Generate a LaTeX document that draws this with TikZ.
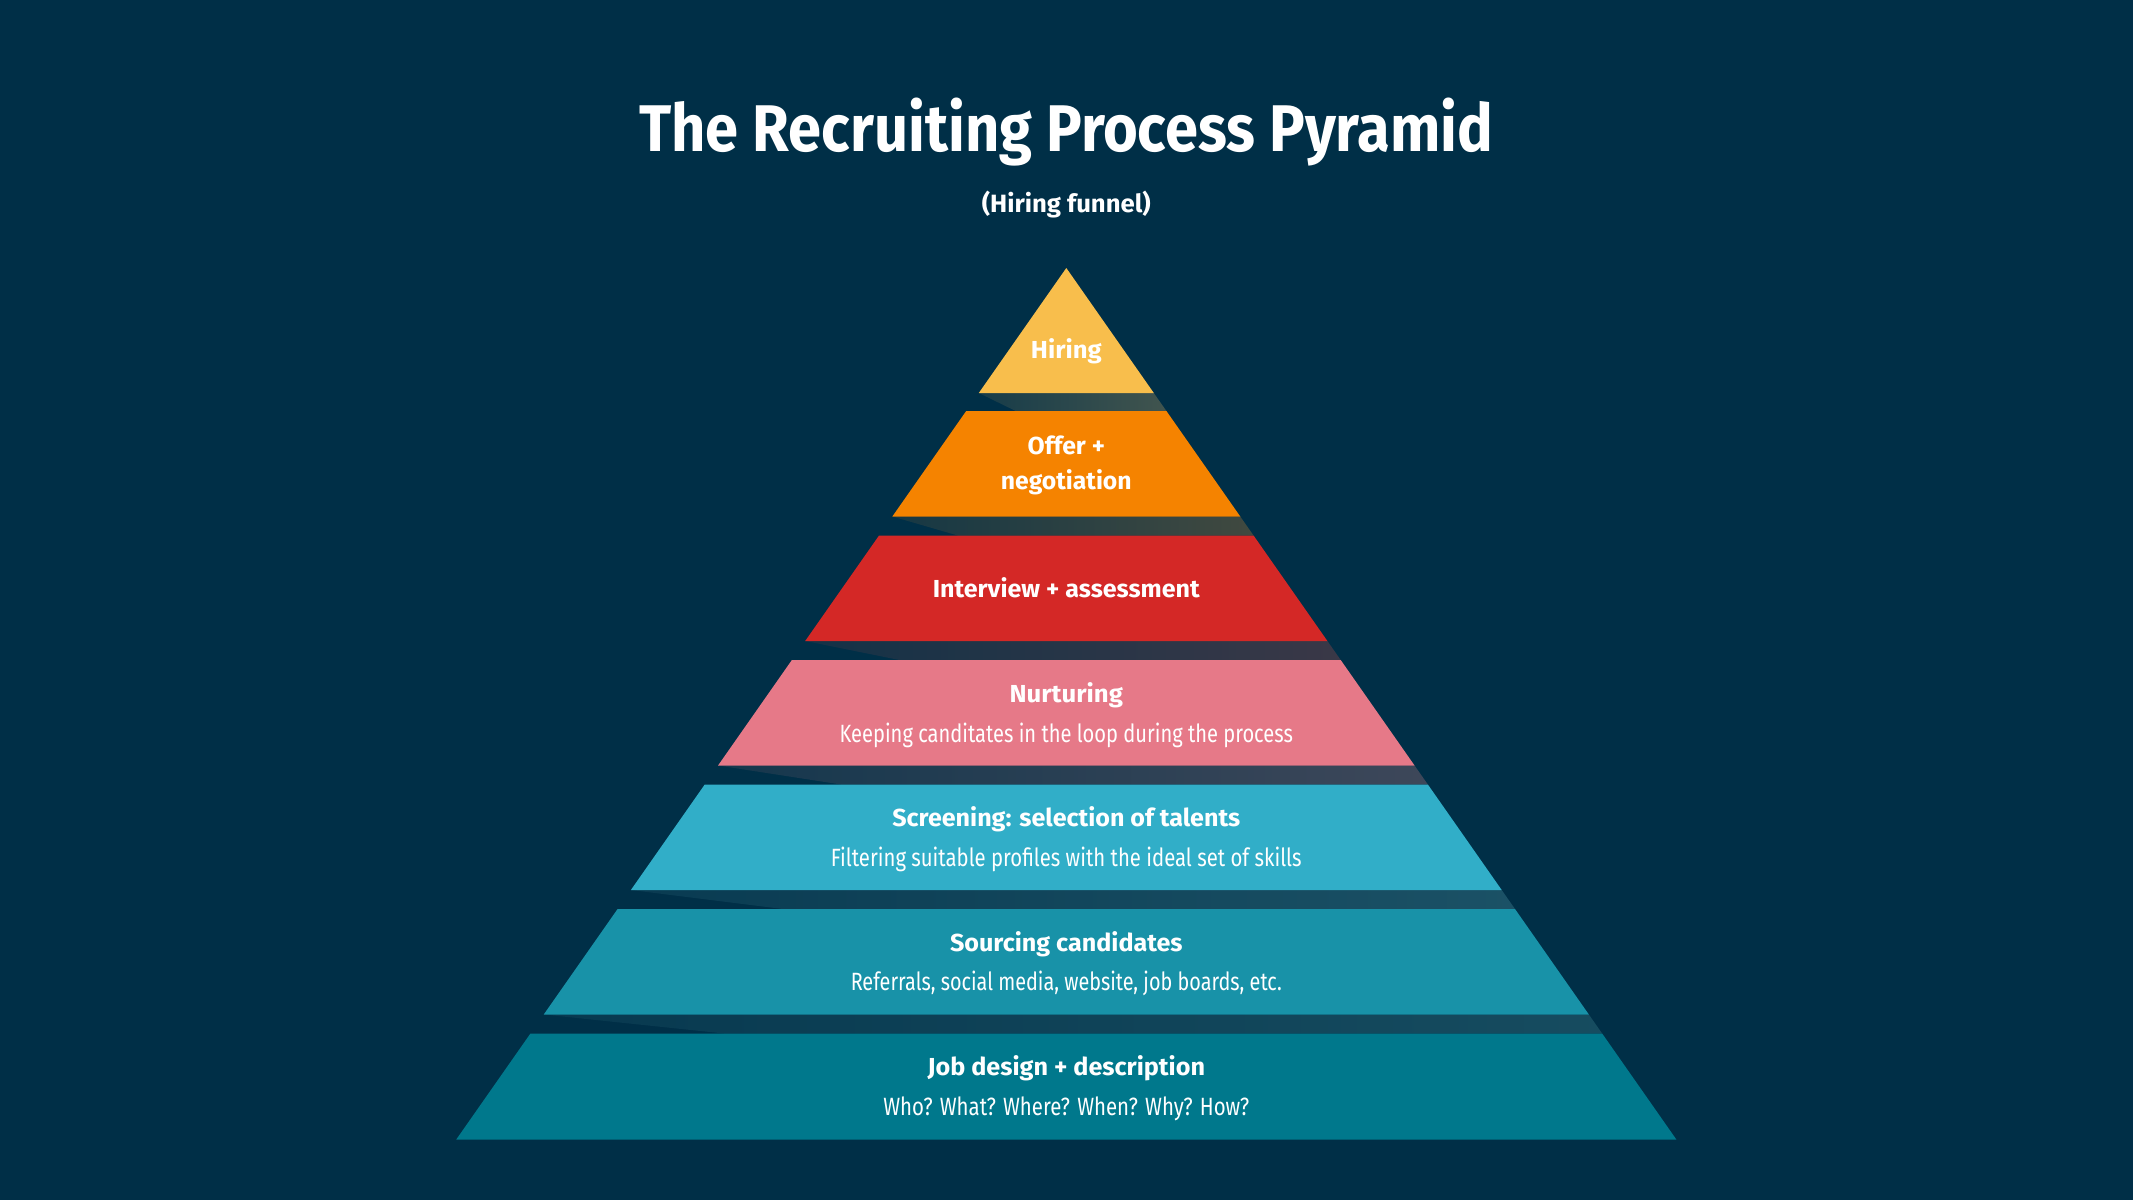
\documentclass[tikz,border=0pt]{standalone}
\usepackage{fontspec}
\setmainfont{Fira Sans}
\newfontfamily\lightf{Fira Sans}
\usepackage{graphicx}
\definecolor{bg}{HTML}{002F47}
\definecolor{sgray}{RGB}{110,110,110}
\definecolor{chir}{HTML}{F8BE4C}
\definecolor{coffer}{HTML}{F58300}
\definecolor{cint}{HTML}{D42826}
\definecolor{cnur}{HTML}{E67988}
\definecolor{cscr}{HTML}{31AEC8}
\definecolor{csrc}{HTML}{1892A8}
\definecolor{cjob}{HTML}{00788C}
\newcommand\fitw[2]{\resizebox{#1pt}{\height}{#2}}
\begin{document}
\begin{tikzpicture}[x=0.5pt,y=-0.5pt]
\tikzset{
 ttl/.style={text=white,inner sep=0pt,anchor=base,font=\bfseries\fontsize{33}{36}\selectfont},
 sub/.style={text=white,inner sep=0pt,anchor=base,font=\bfseries\fontsize{12.5}{14}\selectfont},
 lbl/.style={text=white,inner sep=0pt,anchor=base,font=\bfseries\fontsize{12.3}{14}\selectfont},
 dsc/.style={text=white,inner sep=0pt,anchor=base,font=\lightf\fontsize{12.5}{14}\selectfont},
}
\fill[bg] (0,0) rectangle (2133,1200);
\def\cx{1066.3}
% shadows
\foreach \yb/\yt/\colU in {393/411/chir,516.5/535.5/coffer,641/660/cint,765.5/784.5/cnur,890/909/cscr,1014.5/1033.5/csrc}
  \shade[left color=\colU!54.5!sgray!12!bg, middle color=\colU!54.5!sgray!55!bg, right color=\colU!54.5!sgray!35!bg]
    ({\cx-0.7*(\yb-268)},\yb) -- ({\cx+0.7*(\yb-268)},\yb) -- ({\cx+0.7*(\yt-268)},\yt) -- ({\cx-0.469*(\yb-268)+8},\yt) -- cycle;
% layers
\fill[chir] (\cx,268) -- ({\cx+0.7*125},393) -- ({\cx-0.7*125},393) -- cycle;
\foreach \t/\b/\c in {411/516.5/coffer,535.5/641/cint,660/765.5/cnur,784.5/890/cscr,909/1014.5/csrc,1033.5/1139.5/cjob}
  \fill[\c] ({\cx-0.7*(\t-268)},\t) -- ({\cx+0.7*(\t-268)},\t) -- ({\cx+0.7*(\b-268)},\b) -- ({\cx-0.7*(\b-268)},\b) -- cycle;
% texts
\node[ttl] (title) at (\cx,151.7) {\fitw{427}{The Recruiting Process Pyramid}};
\node[sub] (subtitle) at (\cx,212.3) {\fitw{84.5}{(Hiring funnel)}};
\node[lbl] (hir) at (\cx,358.3) {\fitw{35.35}{Hiring}};
\node[lbl] (off1) at (\cx,454) {\fitw{38.65}{Offer +}};
\node[lbl] (off2) at (\cx,489.3) {\fitw{65.35}{negotiation}};
\node[lbl] (int) at (\cx,597) {\fitw{133.5}{Interview + assessment}};
\node[lbl] (nur) at (\cx,702.7) {\fitw{56.65}{Nurturing}};
\node[dsc] (nurd) at (\cx,742.7) {\fitw{226.65}{Keeping canditates in the loop during the process}};
\node[lbl] (scr) at (\cx,826.7) {\fitw{174}{Screening: selection of talents}};
\node[dsc] (scrd) at (\cx,866) {\fitw{235.35}{Filtering suitable profiles with the ideal set of skills}};
\node[lbl] (src) at (\cx,951) {\fitw{116.3}{Sourcing candidates}};
\node[dsc] (srcd) at (\cx,990.8) {\fitw{215.5}{Referrals, social media, website, job boards, etc.}};
\node[lbl] (job) at (\cx,1075.5) {\fitw{138.75}{Job design + description}};
\node[dsc] (jobd) at (\cx,1115) {\fitw{183}{Who? What? Where? When? Why? How?}};
\end{tikzpicture}
\end{document}
